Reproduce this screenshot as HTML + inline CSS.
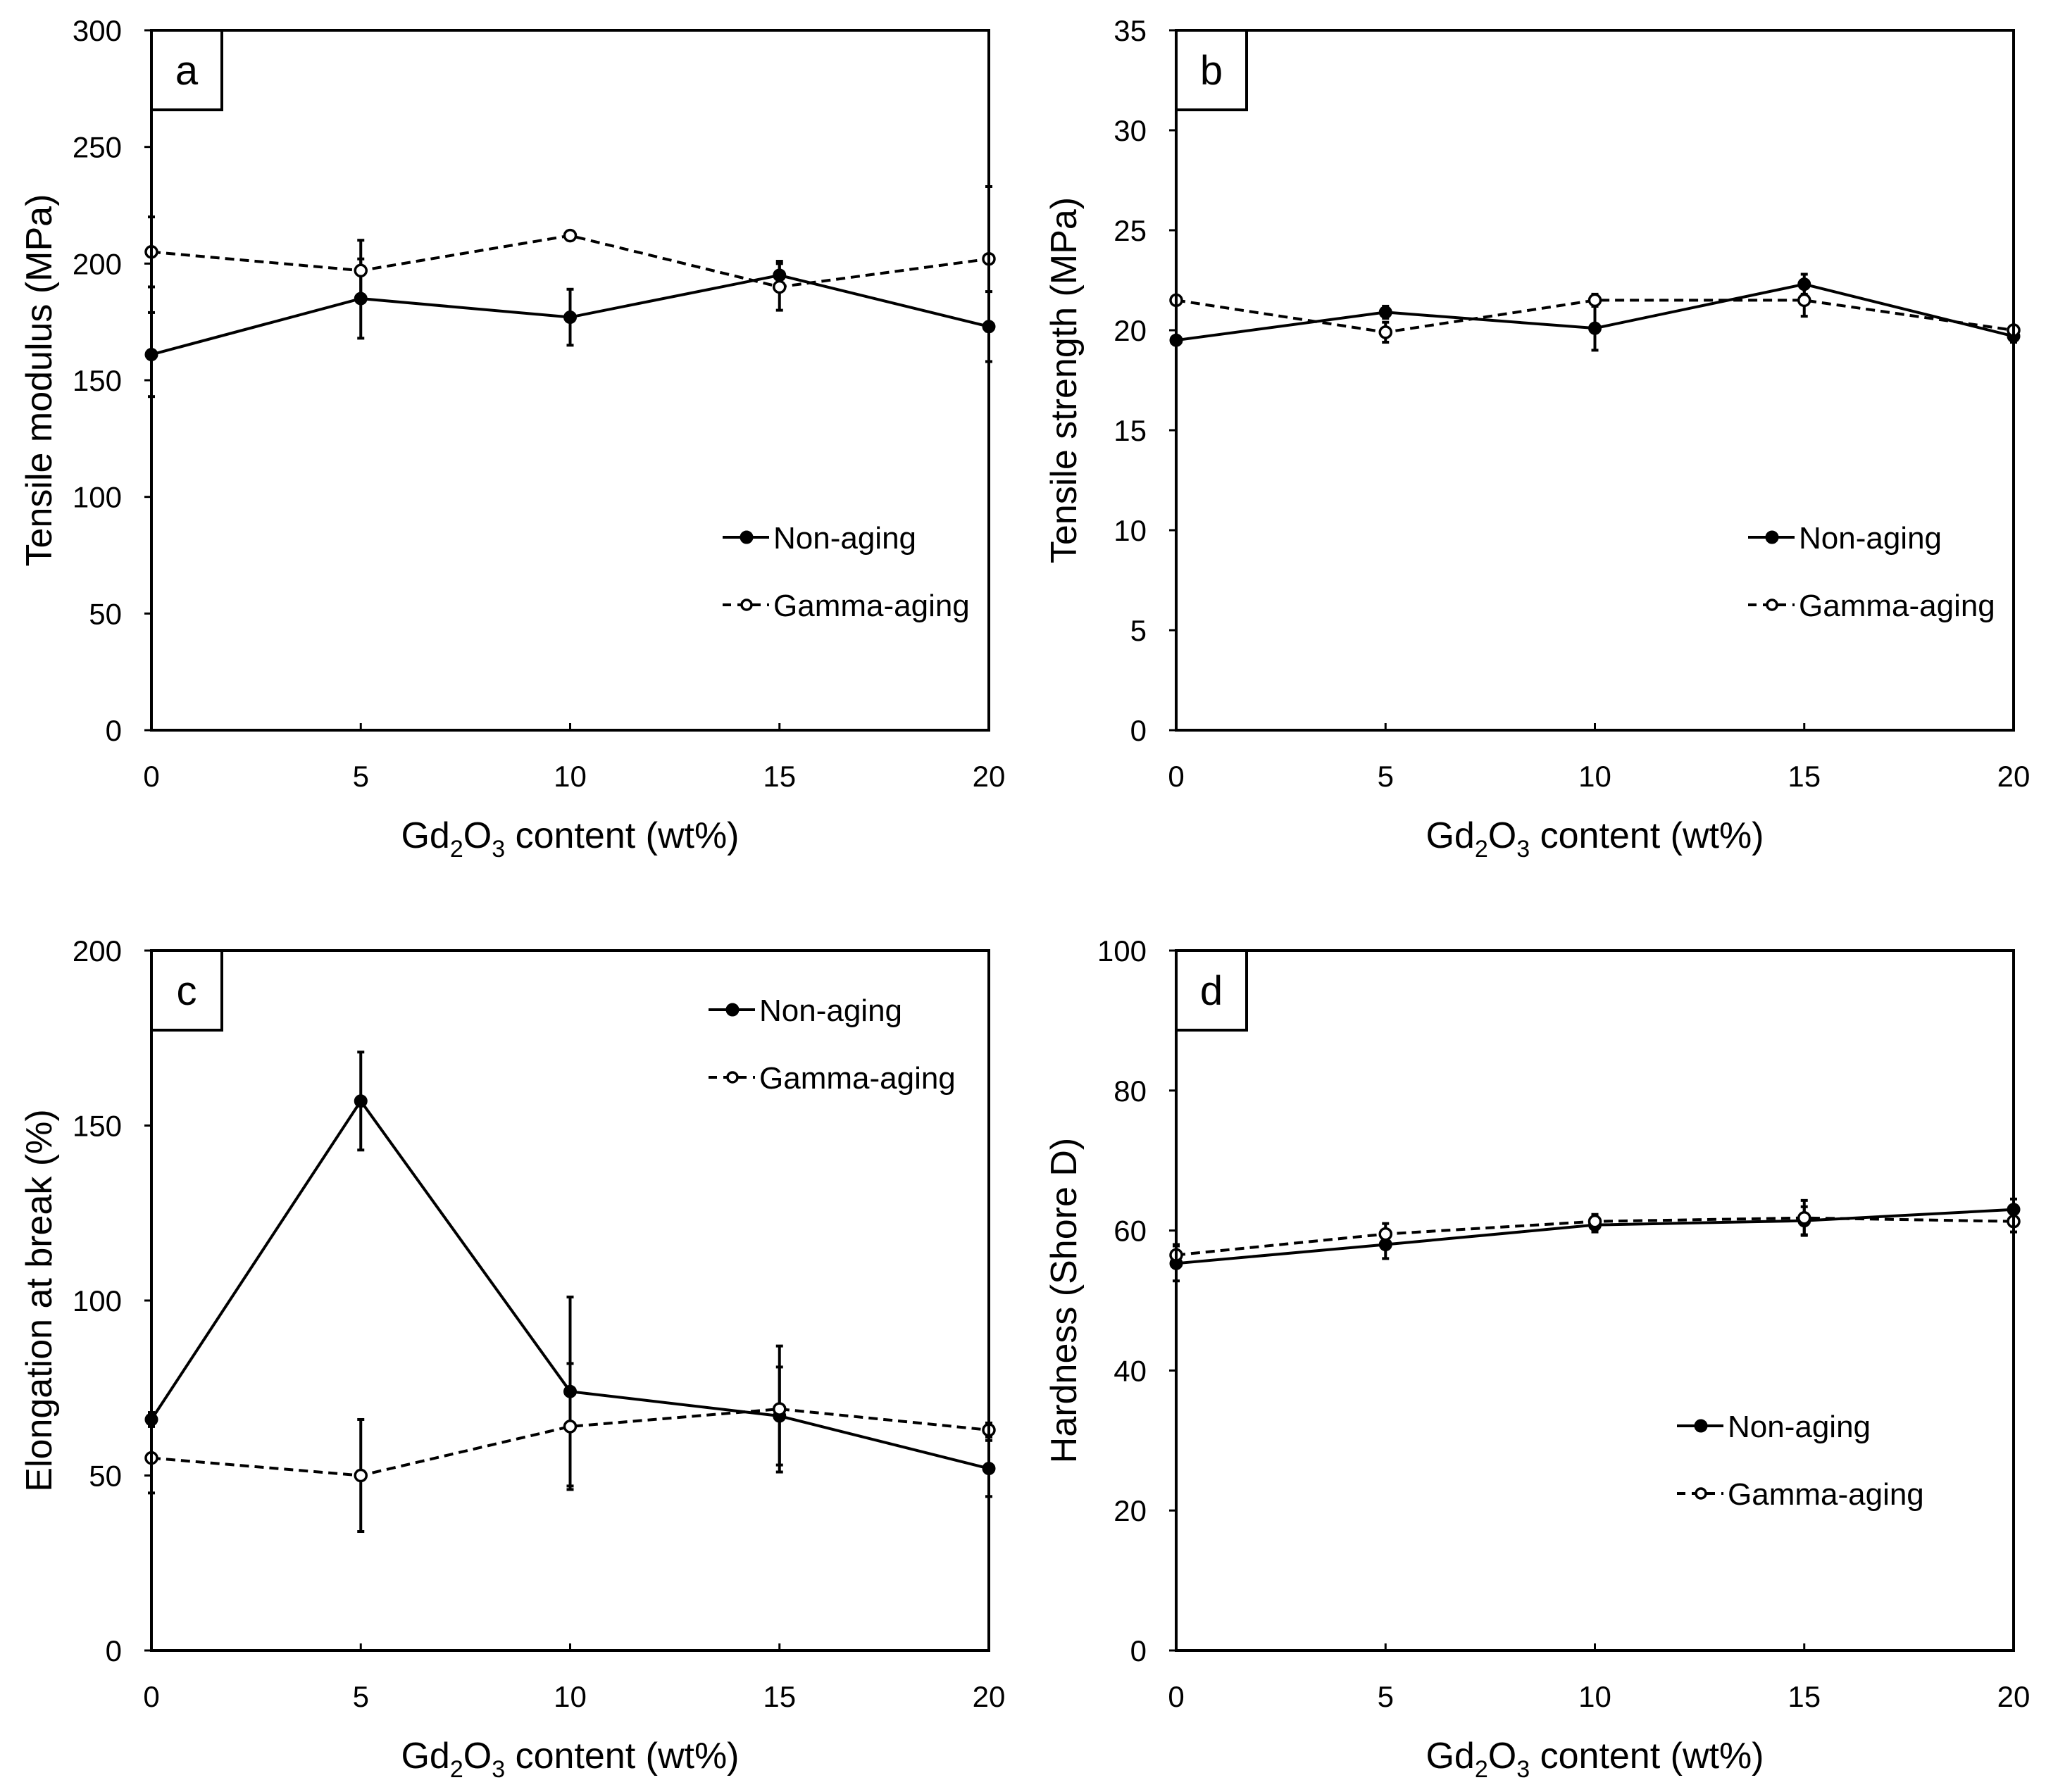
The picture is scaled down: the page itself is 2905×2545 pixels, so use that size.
<!DOCTYPE html>
<html><head><meta charset="utf-8"><style>
body{margin:0;background:#fff}
svg{display:block}
text{font-family:"Liberation Sans",sans-serif;fill:#000}
</style></head><body>
<svg id="fig" width="2905" height="2545" viewBox="0 0 2905 2545" xmlns="http://www.w3.org/2000/svg"></svg>
<script>
const xCats=[0,5,10,15,20];
const xTicks=["0","5","10","15","20"];
// panel a
const aNon=[161,185,177,195,173];
const aNonErr=[18,17,12,6,15];
const aGam=[205,197,212,190,202];
const aGamErr=[15,13,2,10,31];
const aTicks=[0,50,100,150,200,250,300];
// panel b
const bNon=[19.5,20.9,20.1,22.3,19.7];
const bNonErr=[0.2,0.3,1.1,0.5,0.3];
const bGam=[21.5,19.9,21.5,21.5,20.0];
const bGamErr=[0.2,0.5,0.3,0.8,0.2];
const bTicks=[0,5,10,15,20,25,30,35];
// panel c
const cNon=[66,157,74,67,52];
const cNonErr=[2,14,27,14,8];
const cGam=[55,50,64,69,63];
const cGamErr=[10,16,18,18,2];
const cTicks=[0,50,100,150,200];
// panel d
const dNon=[55.3,58.0,60.8,61.4,63.0];
const dNonErr=[2.5,2,1,2,1.5];
const dGam=[56.5,59.5,61.3,61.8,61.3];
const dGamErr=[1.5,1.5,1,2.5,1.5];
const dTicks=[0,20,40,60,80,100];

const NS="http://www.w3.org/2000/svg";
const svg=document.getElementById('fig');
function mk(tag,attrs,parent){const e=document.createElementNS(NS,tag);for(const k in attrs)e.setAttribute(k,attrs[k]);(parent||svg).appendChild(e);return e;}

const panels=[
 {id:'a',x0:215,y0:43,ylabel:'Tensile modulus (MPa)',ticks:aTicks,non:aNon,nonE:aNonErr,gam:aGam,gamE:aGamErr,leg:[1026,763]},
 {id:'b',x0:1670,y0:43,ylabel:'Tensile strength (MPa)',ticks:bTicks,non:bNon,nonE:bNonErr,gam:bGam,gamE:bGamErr,leg:[2482,763]},
 {id:'c',x0:215,y0:1350,ylabel:'Elongation at break (%)',ticks:cTicks,non:cNon,nonE:cNonErr,gam:cGam,gamE:cGamErr,leg:[1006,1434]},
 {id:'d',x0:1670,y0:1350,ylabel:'Hardness (Shore D)',ticks:dTicks,non:dNon,nonE:dNonErr,gam:dGam,gamE:dGamErr,leg:[2381,2025]}
];
const W=1189,H=994;
panels.forEach(p=>{
  const g=mk('g',{});
  
  
  const ymax=p.ticks[p.ticks.length-1];
  const sx=v=>p.x0+v/20*W;
  const sy=v=>p.y0+H-v/ymax*H;
  p.ticks.forEach((t,i)=>{
    const tl=mk('line',{x1:p.x0-10,x2:p.x0,y1:sy(t),y2:sy(t),stroke:'#000','stroke-width':3},g);
    
    
    const tx=mk('text',{x:p.x0-42,y:sy(t)+15,'text-anchor':'end','font-size':42},g);
    
    
    tx.textContent=String(t);
  });
  xCats.forEach((c,i)=>{
    const tl=mk('line',{x1:sx(c),x2:sx(c),y1:p.y0+H,y2:p.y0+H-10,stroke:'#000','stroke-width':3},g);
    
    
    const tx=mk('text',{x:sx(c),y:p.y0+H+80,'text-anchor':'middle','font-size':42},g);
    
    
    tx.textContent=xTicks[i];
  });
  const xt=mk('text',{x:p.x0+W/2,y:p.y0+H+167,'text-anchor':'middle','font-size':52},g);
  
  
  xt.innerHTML='Gd<tspan font-size="34" dy="13">2</tspan><tspan dy="-13">O</tspan><tspan font-size="34" dy="13">3</tspan><tspan dy="-13"> content (wt%)</tspan>';
  const yt=mk('text',{x:0,y:0,'text-anchor':'middle','font-size':52,transform:`translate(${p.x0-142},${p.y0+H/2}) rotate(-90)`},g);
  
  
  yt.textContent=p.ylabel;
  function series(vals,errs,dashed,filled,name){
    const sg=mk('g',{},g);
    
    
    vals.forEach((v,i)=>{
      const top=Math.min(v+errs[i],ymax),bot=Math.max(v-errs[i],0);
      const el=mk('line',{x1:sx(xCats[i]),x2:sx(xCats[i]),y1:sy(top),y2:sy(bot),stroke:'#000','stroke-width':4},sg);
      
      
      [top,bot].forEach(e=>{
        const c=mk('line',{x1:sx(xCats[i])-5,x2:sx(xCats[i])+5,y1:sy(e),y2:sy(e),stroke:'#000','stroke-width':4},sg);
        
        
      });
    });
    const pts=vals.map((v,i)=>sx(xCats[i])+','+sy(v)).join(' ');
    const pl=mk('polyline',{points:pts,fill:'none',stroke:'#000','stroke-width':4,'stroke-dasharray':dashed?'13 8':'none'},sg);
    
    
    vals.forEach((v,i)=>{
      const m=mk('circle',{cx:sx(xCats[i]),cy:sy(v),r:filled?9:8,fill:filled?'#000':'#fff',stroke:'#000','stroke-width':filled?1:3.5},sg);
      
      
    });
  }
  series(p.non,p.nonE,false,true,'series-non-aging');
  series(p.gam,p.gamE,true,false,'series-gamma-aging');
  const fr=mk('rect',{x:p.x0,y:p.y0,width:W,height:H,fill:'none',stroke:'#000','stroke-width':4},g);
  
  
  const lb=mk('rect',{x:p.x0,y:p.y0,width:100,height:113,fill:'#fff',stroke:'#000','stroke-width':4},g);
  
  
  const lt=mk('text',{x:p.x0+50,y:p.y0+77,'text-anchor':'middle','font-size':58},g);
  
  
  lt.textContent=p.id;
  const [lx,ly]=p.leg;
  const lg=mk('g',{},g);
  
  
  [[ly,false,true,'Non-aging'],[ly+96,true,false,'Gamma-aging']].forEach(([yy,d,f,t])=>{
    const e=mk('g',{},lg);
    
    
    mk('line',{x1:lx,x2:lx+66,y1:yy,y2:yy,stroke:'#000','stroke-width':4,'stroke-dasharray':d?'12 9':'none'},e);
    mk('circle',{cx:lx+34,cy:yy,r:f?9:7,fill:f?'#000':'#fff',stroke:'#000','stroke-width':f?1:3.5},e);
    const tx=mk('text',{x:lx+72,y:yy+16,'font-size':44},e);
    tx.textContent=t;
  });
  svg.appendChild(g);
});
</script>
</body></html>
